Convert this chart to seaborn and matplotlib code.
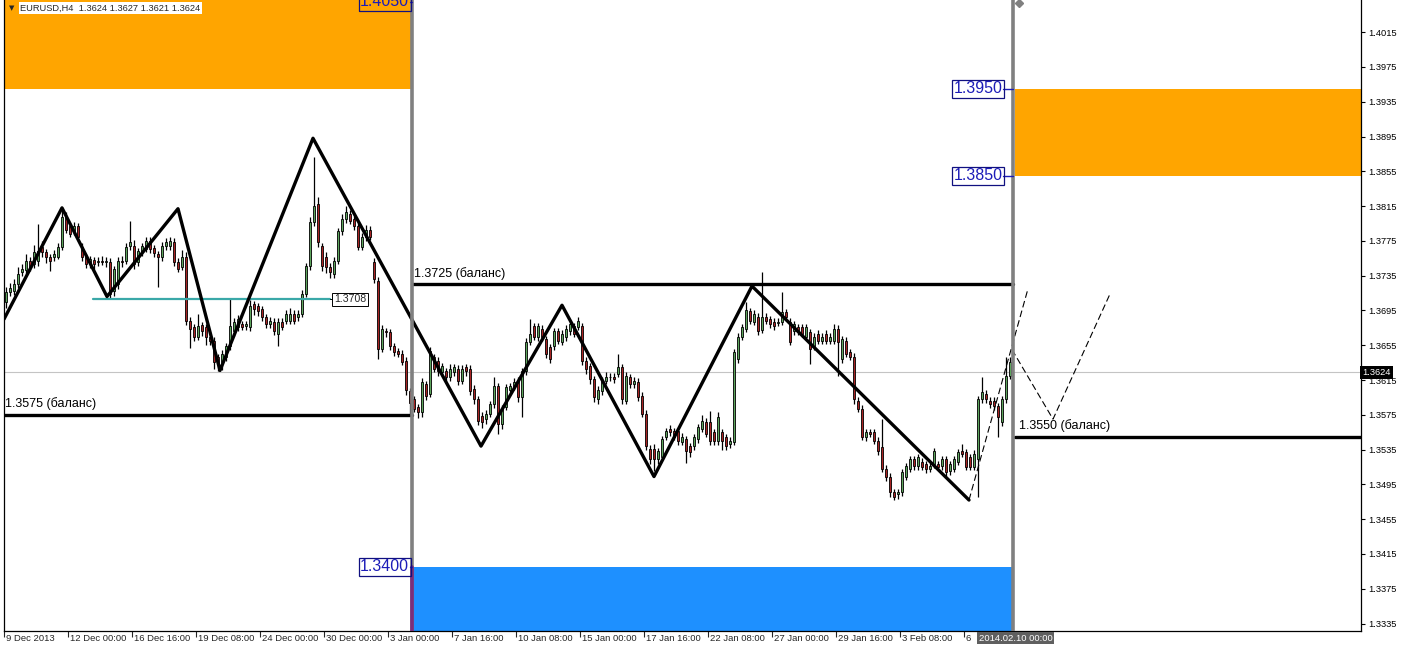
import numpy as np
import pandas as pd
import matplotlib
matplotlib.use("Agg")
import matplotlib.pyplot as plt
import seaborn as sns
from matplotlib.patches import Rectangle
from matplotlib.transforms import blended_transform_factory

sns.set_style("white")
plt.rcParams['font.family'] = ['Liberation Sans', 'DejaVu Sans']

# ---------------- data (EURUSD H4) ----------------
opens = [
    1.3705,1.3716,1.3717,1.3725,1.3739,1.3741,1.3752,1.3748,1.3752,1.3768,
    1.3762,1.3757,1.3756,1.3757,1.3768,1.3802,1.3792,1.3786,1.3792,1.3768,
    1.3756,1.3748,1.3753,1.3751,1.3752,1.3751,1.3751,1.3717,1.3725,1.3752,
    1.3752,1.3769,1.3769,1.3751,1.3762,1.3766,1.3775,1.3767,1.3760,1.3756,
    1.3769,1.3769,1.3774,1.3751,1.3745,1.3756,1.3683,1.3676,1.3665,1.3678,
    1.3676,1.3665,1.3660,1.3641,1.3636,1.3642,1.3654,1.3671,1.3676,1.3679,
    1.3677,1.3676,1.3702,1.3700,1.3697,1.3687,1.3679,1.3682,1.3668,1.3682,
    1.3683,1.3683,1.3691,1.3687,1.3691,1.3714,1.3746,1.3797,1.3817,1.3769,
    1.3756,1.3745,1.3737,1.3752,1.3786,1.3800,1.3806,1.3800,1.3792,1.3768,
    1.3779,1.3788,1.3751,1.3729,1.3651,1.3671,1.3670,1.3654,1.3648,1.3645,
    1.3637,1.3602,1.3593,1.3584,1.3578,1.3610,1.3599,1.3641,1.3637,1.3624,
    1.3625,1.3618,1.3624,1.3628,1.3614,1.3630,1.3628,1.3605,1.3593,1.3574,
    1.3570,1.3576,1.3587,1.3608,1.3564,1.3584,1.3604,1.3607,1.3614,1.3596,
    1.3625,1.3659,1.3677,1.3664,1.3674,1.3662,1.3653,1.3654,1.3671,1.3659,
    1.3664,1.3671,1.3677,1.3676,1.3677,1.3637,1.3631,1.3616,1.3593,1.3602,
    1.3614,1.3619,1.3619,1.3622,1.3630,1.3591,1.3618,1.3610,1.3613,1.3597,
    1.3576,1.3536,1.3536,1.3524,1.3527,1.3550,1.3559,1.3556,1.3556,1.3544,
    1.3547,1.3539,1.3539,1.3547,1.3559,1.3567,1.3567,1.3555,1.3545,1.3555,
    1.3549,1.3541,1.3544,1.3639,1.3665,1.3674,1.3694,1.3682,1.3688,1.3673,
    1.3688,1.3685,1.3682,1.3681,1.3682,1.3693,1.3682,1.3671,1.3676,1.3676,
    1.3665,1.3670,1.3654,1.3668,1.3660,1.3668,1.3660,1.3660,1.3674,1.3639,
    1.3660,1.3647,1.3642,1.3591,1.3582,1.3549,1.3555,1.3555,1.3545,1.3538,
    1.3513,1.3504,1.3486,1.3484,1.3486,1.3504,1.3513,1.3524,1.3516,1.3521,
    1.3518,1.3513,1.3518,1.3518,1.3516,1.3524,1.3510,1.3513,1.3521,1.3533,
    1.3532,1.3526,1.3515,1.3524,1.3593,1.3599,1.3591,1.3591,1.3585,1.3567,
    1.3593,1.3620]
highs = [
    1.3722,1.3727,1.3731,1.3745,1.3748,1.3760,1.3756,1.3770,1.3794,1.3775,
    1.3766,1.3760,1.3764,1.3772,1.3810,1.3808,1.3796,1.3797,1.3796,1.3772,
    1.3760,1.3758,1.3757,1.3756,1.3758,1.3757,1.3755,1.3746,1.3756,1.3758,
    1.3772,1.3798,1.3776,1.3767,1.3773,1.3779,1.3779,1.3770,1.3763,1.3774,
    1.3778,1.3779,1.3778,1.3755,1.3765,1.3762,1.3687,1.3680,1.3691,1.3682,
    1.3680,1.3670,1.3664,1.3645,1.3649,1.3658,1.3708,1.3686,1.3690,1.3683,
    1.3683,1.3707,1.3706,1.3704,1.3700,1.3691,1.3687,1.3686,1.3686,1.3686,
    1.3695,1.3698,1.3695,1.3695,1.3718,1.3750,1.3802,1.3871,1.3825,1.3773,
    1.3762,1.3749,1.3756,1.3790,1.3806,1.3815,1.3810,1.3804,1.3796,1.3784,
    1.3793,1.3792,1.3755,1.3733,1.3678,1.3675,1.3674,1.3658,1.3652,1.3649,
    1.3641,1.3606,1.3597,1.3588,1.3617,1.3614,1.3653,1.3645,1.3641,1.3635,
    1.3629,1.3633,1.3634,1.3632,1.3632,1.3634,1.3632,1.3609,1.3597,1.3578,
    1.3580,1.3591,1.3619,1.3612,1.3586,1.3611,1.3612,1.3617,1.3618,1.3629,
    1.3663,1.3685,1.3681,1.3681,1.3678,1.3666,1.3657,1.3675,1.3675,1.3672,
    1.3678,1.3684,1.3681,1.3688,1.3681,1.3641,1.3635,1.3620,1.3608,1.3618,
    1.3624,1.3623,1.3623,1.3645,1.3634,1.3624,1.3622,1.3618,1.3617,1.3601,
    1.3580,1.3540,1.3541,1.3537,1.3551,1.3560,1.3563,1.3560,1.3560,1.3554,
    1.3551,1.3543,1.3553,1.3565,1.3575,1.3571,1.3579,1.3559,1.3578,1.3559,
    1.3553,1.3549,1.3651,1.3669,1.3680,1.3705,1.3698,1.3695,1.3692,1.3739,
    1.3692,1.3689,1.3686,1.3686,1.3716,1.3697,1.3686,1.3683,1.3680,1.3680,
    1.3680,1.3674,1.3669,1.3672,1.3669,1.3672,1.3669,1.3680,1.3678,1.3666,
    1.3664,1.3651,1.3646,1.3595,1.3586,1.3559,1.3559,1.3559,1.3549,1.3570,
    1.3517,1.3508,1.3490,1.3490,1.3513,1.3520,1.3528,1.3528,1.3530,1.3525,
    1.3522,1.3520,1.3537,1.3522,1.3528,1.3528,1.3522,1.3528,1.3536,1.3542,
    1.3536,1.3530,1.3534,1.3597,1.3618,1.3603,1.3595,1.3595,1.3589,1.3597,
    1.3641,1.3641]
lows = [
    1.3698,1.3712,1.3713,1.3721,1.3735,1.3737,1.3740,1.3744,1.3746,1.3756,
    1.3750,1.3740,1.3752,1.3754,1.3765,1.3784,1.3779,1.3782,1.3775,1.3752,
    1.3744,1.3744,1.3743,1.3746,1.3747,1.3745,1.3708,1.3712,1.3720,1.3745,
    1.3748,1.3765,1.3743,1.3746,1.3758,1.3762,1.3761,1.3757,1.3722,1.3752,
    1.3765,1.3765,1.3746,1.3739,1.3741,1.3678,1.3652,1.3660,1.3661,1.3666,
    1.3655,1.3655,1.3628,1.3625,1.3627,1.3637,1.3650,1.3666,1.3671,1.3672,
    1.3672,1.3671,1.3690,1.3689,1.3683,1.3675,1.3675,1.3667,1.3654,1.3672,
    1.3679,1.3679,1.3679,1.3683,1.3687,1.3710,1.3742,1.3792,1.3768,1.3740,
    1.3738,1.3732,1.3732,1.3748,1.3782,1.3796,1.3794,1.3788,1.3764,1.3764,
    1.3775,1.3776,1.3726,1.3639,1.3647,1.3665,1.3650,1.3643,1.3641,1.3632,
    1.3598,1.3574,1.3578,1.3571,1.3572,1.3592,1.3595,1.3624,1.3620,1.3620,
    1.3614,1.3614,1.3620,1.3609,1.3610,1.3620,1.3598,1.3588,1.3563,1.3560,
    1.3565,1.3572,1.3583,1.3553,1.3559,1.3580,1.3600,1.3603,1.3590,1.3572,
    1.3621,1.3655,1.3661,1.3660,1.3660,1.3640,1.3635,1.3650,1.3656,1.3655,
    1.3660,1.3667,1.3664,1.3672,1.3632,1.3622,1.3611,1.3590,1.3588,1.3598,
    1.3610,1.3614,1.3612,1.3618,1.3588,1.3587,1.3606,1.3606,1.3591,1.3572,
    1.3534,1.3519,1.3510,1.3519,1.3523,1.3546,1.3551,1.3546,1.3540,1.3540,
    1.3520,1.3527,1.3535,1.3543,1.3555,1.3549,1.3540,1.3540,1.3540,1.3535,
    1.3535,1.3537,1.3540,1.3635,1.3661,1.3670,1.3679,1.3678,1.3667,1.3669,
    1.3679,1.3675,1.3673,1.3677,1.3678,1.3684,1.3655,1.3667,1.3667,1.3664,
    1.3661,1.3633,1.3650,1.3656,1.3656,1.3656,1.3656,1.3656,1.3620,1.3635,
    1.3641,1.3638,1.3588,1.3578,1.3546,1.3545,1.3549,1.3541,1.3529,1.3509,
    1.3499,1.3480,1.3477,1.3478,1.3482,1.3500,1.3509,1.3512,1.3512,1.3511,
    1.3508,1.3509,1.3514,1.3511,1.3512,1.3505,1.3506,1.3509,1.3517,1.3526,
    1.3511,1.3511,1.3511,1.3481,1.3589,1.3589,1.3583,1.3581,1.3550,1.3562,
    1.3589,1.3616]
closes = [
    1.3716,1.3721,1.3725,1.3737,1.3743,1.3752,1.3745,1.3762,1.3763,1.3762,
    1.3756,1.3752,1.3760,1.3768,1.3802,1.3788,1.3783,1.3792,1.3779,1.3757,
    1.3748,1.3754,1.3748,1.3752,1.3751,1.3752,1.3714,1.3743,1.3752,1.3751,
    1.3768,1.3774,1.3748,1.3763,1.3769,1.3775,1.3766,1.3761,1.3757,1.3769,
    1.3774,1.3775,1.3751,1.3743,1.3756,1.3683,1.3674,1.3665,1.3677,1.3671,
    1.3665,1.3660,1.3636,1.3633,1.3645,1.3654,1.3677,1.3682,1.3685,1.3676,
    1.3679,1.3700,1.3697,1.3694,1.3687,1.3679,1.3683,1.3671,1.3682,1.3676,
    1.3691,1.3691,1.3683,1.3691,1.3714,1.3746,1.3797,1.3815,1.3774,1.3746,
    1.3745,1.3739,1.3752,1.3786,1.3800,1.3808,1.3798,1.3792,1.3768,1.3779,
    1.3788,1.3780,1.3731,1.3651,1.3674,1.3670,1.3654,1.3647,1.3645,1.3636,
    1.3604,1.3589,1.3582,1.3578,1.3613,1.3597,1.3648,1.3628,1.3625,1.3631,
    1.3618,1.3628,1.3630,1.3614,1.3628,1.3625,1.3602,1.3593,1.3568,1.3567,
    1.3576,1.3587,1.3608,1.3564,1.3582,1.3607,1.3608,1.3613,1.3595,1.3625,
    1.3659,1.3668,1.3665,1.3677,1.3664,1.3645,1.3639,1.3671,1.3660,1.3668,
    1.3674,1.3679,1.3668,1.3683,1.3637,1.3628,1.3616,1.3596,1.3604,1.3614,
    1.3619,1.3618,1.3616,1.3630,1.3593,1.3620,1.3610,1.3614,1.3595,1.3576,
    1.3539,1.3524,1.3524,1.3533,1.3547,1.3556,1.3555,1.3550,1.3545,1.3550,
    1.3533,1.3532,1.3549,1.3561,1.3568,1.3553,1.3545,1.3545,1.3573,1.3545,
    1.3539,1.3545,1.3647,1.3665,1.3676,1.3696,1.3683,1.3691,1.3671,1.3688,
    1.3683,1.3679,1.3677,1.3682,1.3693,1.3688,1.3659,1.3679,1.3671,1.3668,
    1.3676,1.3651,1.3665,1.3660,1.3665,1.3660,1.3665,1.3674,1.3659,1.3662,
    1.3645,1.3642,1.3593,1.3582,1.3550,1.3555,1.3553,1.3545,1.3533,1.3513,
    1.3503,1.3486,1.3481,1.3486,1.3509,1.3516,1.3524,1.3516,1.3526,1.3515,
    1.3513,1.3516,1.3533,1.3515,1.3524,1.3509,1.3518,1.3524,1.3532,1.3530,
    1.3515,1.3515,1.3530,1.3593,1.3601,1.3593,1.3587,1.3585,1.3572,1.3593,
    1.3620,1.3636]

# zigzag (bar index, price)
zig_x = [-0.5, 14, 25.25, 43, 53.5, 76.75, 118.75, 139, 162, 186.5, 240.75]
zig_y = [1.3685, 1.3813, 1.3711, 1.3812, 1.3626, 1.3893, 1.3539, 1.3701, 1.3504, 1.3723, 1.3477]
dash1_x = [240.75, 255.5]
dash1_y = [1.3477, 1.3720]
dash2_x = [251.5, 261.75, 276]
dash2_y = [1.3650, 1.3570, 1.3714]

ytick_vals = [1.3335, 1.3375, 1.3415, 1.3455, 1.3495, 1.3535, 1.3575, 1.3615,
              1.3655, 1.3695, 1.3735, 1.3775, 1.3815, 1.3855, 1.3895, 1.3935,
              1.3975, 1.4015]
xtick_pos = [0, 16, 32, 48, 64, 80, 96, 112, 128, 144, 160, 176, 192, 208, 224, 240]
xtick_lab = ["9 Dec 2013", "12 Dec 00:00", "16 Dec 16:00", "19 Dec 08:00",
             "24 Dec 00:00", "30 Dec 00:00", "3 Jan 00:00", "7 Jan 16:00",
             "10 Jan 08:00", "15 Jan 00:00", "17 Jan 16:00", "22 Jan 08:00",
             "27 Jan 00:00", "29 Jan 16:00", "3 Feb 08:00", "6"]

cur_price = 1.3624
sep1, sep2 = 101.5, 251.75
X_MIN, X_MAX = -0.5, 338.75
Y_MIN, Y_MAX = 1.33264, 1.40520

df = pd.DataFrame({"o": opens, "h": highs, "l": lows, "c": closes})
df["i"] = np.arange(len(df))

# ---------------- figure ----------------
W, H = 1403, 649
fig = plt.figure(figsize=(W / 100, H / 100), dpi=100)
fig.patch.set_facecolor("white")
ax = fig.add_axes([4 / W, 18 / H, 1357 / W, 631 / H])
ax.set_xlim(X_MIN, X_MAX)
ax.set_ylim(Y_MIN, Y_MAX)

ORANGE = "#FFA500"
BLUE = "#1E90FF"
LBLUE = "#1c1cb8"

# zones (upper zone reaches the top edge of the view, as in the terminal)
ax.add_patch(Rectangle((X_MIN, 1.3950), sep1 - X_MIN, max(1.4050, Y_MAX) - 1.3950,
                       fc=ORANGE, ec="none", zorder=0))
ax.add_patch(Rectangle((sep1, 1.3300), sep2 - sep1, 0.0100, fc=BLUE, ec="none", zorder=0))
ax.add_patch(Rectangle((sep2 + 0.5, 1.3850), X_MAX - sep2, 0.0100, fc=ORANGE, ec="none", zorder=0))

# current price line
ax.axhline(cur_price, color="#c4c4c4", lw=0.8, zorder=1)

# candles
up = df[df.c >= df.o]
dn = df[df.c < df.o]
ax.vlines(df.i, df.l, df.h, color="black", lw=0.9, zorder=3)
ax.bar(up.i, up.c - up.o, bottom=up.o, width=0.72, color="#5da55d",
       edgecolor="black", linewidth=0.6, zorder=4)
ax.bar(dn.i, dn.o - dn.c, bottom=dn.c, width=0.72, color="#a82424",
       edgecolor="black", linewidth=0.6, zorder=4)

# teal level 1.3708
ax.plot([21.75, 81], [1.3708, 1.3708], color="#3aa8a8", lw=1.6, zorder=5)
ax.plot([81, 81.9], [1.3708, 1.3708], color="black", lw=0.7, zorder=5)
ax.text(82, 1.3708, "1.3708", fontsize=7.6, ha="left", va="center", zorder=8,
        bbox=dict(boxstyle="square,pad=0.15", fc="white", ec="black", lw=0.7))

# zigzag
sns.lineplot(x=zig_x, y=zig_y, sort=False, estimator=None, color="black",
             lw=2.4, ax=ax, zorder=6)
sns.lineplot(x=dash1_x, y=dash1_y, sort=False, estimator=None, color="black",
             lw=0.8, ax=ax, zorder=6).lines[-1].set_dashes([6, 3])
sns.lineplot(x=dash2_x, y=dash2_y, sort=False, estimator=None, color="black",
             lw=0.8, ax=ax, zorder=6).lines[-1].set_dashes([6, 3])

# balance lines
ax.plot([X_MIN, sep1], [1.3575, 1.3575], color="black", lw=2.4, zorder=6)
ax.plot([sep1, sep2], [1.3725, 1.3725], color="black", lw=2.4, zorder=6)
ax.plot([sep2 + 0.5, X_MAX], [1.3550, 1.3550], color="black", lw=2.4, zorder=6)
for xx, pp, txt in [(-0.25, 1.3575, "1.3575 (баланс)"),
                    (sep1 + 0.6, 1.3725, "1.3725 (баланс)"),
                    (sep2 + 1.5, 1.3550, "1.3550 (баланс)")]:
    ax.annotate(txt, (xx, pp), xytext=(0, 3.2), textcoords="offset points",
                fontsize=9, ha="left", va="bottom", color="black", zorder=8)

# separators
ax.axvline(sep1, color="#808080", lw=2.6, zorder=7)
ax.plot([sep1, sep1], [Y_MIN, 1.3400], color="#7b2d7b", lw=2.6, zorder=7)
ax.axvline(sep2, color="#808080", lw=2.6, zorder=7)
ax.plot([sep2 + 1.6], [1.4048], marker="D", ms=4, color="#808080", zorder=7, clip_on=False)

# price labels of the zones
for xr, xl, pp in [(101.0, sep1, 1.4050), (101.0, sep1, 1.3400),
                   (249.3, sep2, 1.3950), (249.3, sep2, 1.3850)]:
    ax.plot([xr, xl], [pp, pp], color=LBLUE, lw=1.0, zorder=8)
    ax.text(xr - 0.2, pp, f"{pp:.4f}", fontsize=11.5, color=LBLUE, ha="right",
            va="center", zorder=9,
            bbox=dict(boxstyle="square,pad=0.1", fc="none", ec="#101080", lw=0.9))

# axes styling
ax.spines["top"].set_visible(False)
for s in ["left", "bottom", "right"]:
    ax.spines[s].set_color("black")
    ax.spines[s].set_linewidth(0.9)
ax.yaxis.tick_right()
ax.set_yticks(ytick_vals)
ax.set_yticklabels([f"{v:.4f}" for v in ytick_vals])
ax.tick_params(axis="y", direction="out", length=3, width=0.8, pad=2,
               labelsize=6.7, colors="black", left=False, right=True)
ax.set_xticks([p - 0.5 for p in xtick_pos])
ax.set_xticklabels([])
ax.tick_params(axis="x", direction="out", length=4, width=0.8, bottom=True)
trans = blended_transform_factory(ax.transData, ax.transAxes)
for p, lab in zip(xtick_pos, xtick_lab):
    ax.text(p, -0.0045, lab, transform=trans, fontsize=6.8, ha="left", va="top",
            clip_on=False)
ax.text(sep2 + 0.6, -0.004, "2014.02.10 00:00", transform=trans, fontsize=6.8,
        ha="center", va="top", color="white", clip_on=False, zorder=10,
        bbox=dict(boxstyle="square,pad=0.2", fc="#5f5f5f", ec="none"))

# current price tag on the right scale
tr2 = blended_transform_factory(ax.transAxes, ax.transData)
ax.text(1.0011, cur_price, f"{cur_price:.4f}", transform=tr2, fontsize=6.7,
        ha="left", va="center", color="white", clip_on=False, zorder=10,
        bbox=dict(boxstyle="square,pad=0.22", fc="black", ec="none"))

# header
fig.text(12 / W, 1 - 8 / H, "▼", fontsize=5, ha="center", va="center",
         family=["DejaVu Sans"])
fig.text(20 / W, 1 - 8 / H, "EURUSD,H4  1.3624 1.3627 1.3621 1.3624",
         fontsize=6.7, ha="left", va="center",
         bbox=dict(boxstyle="square,pad=0.15", fc="white", ec="none"))

fig.savefig("out.png", dpi=100, facecolor="white")
